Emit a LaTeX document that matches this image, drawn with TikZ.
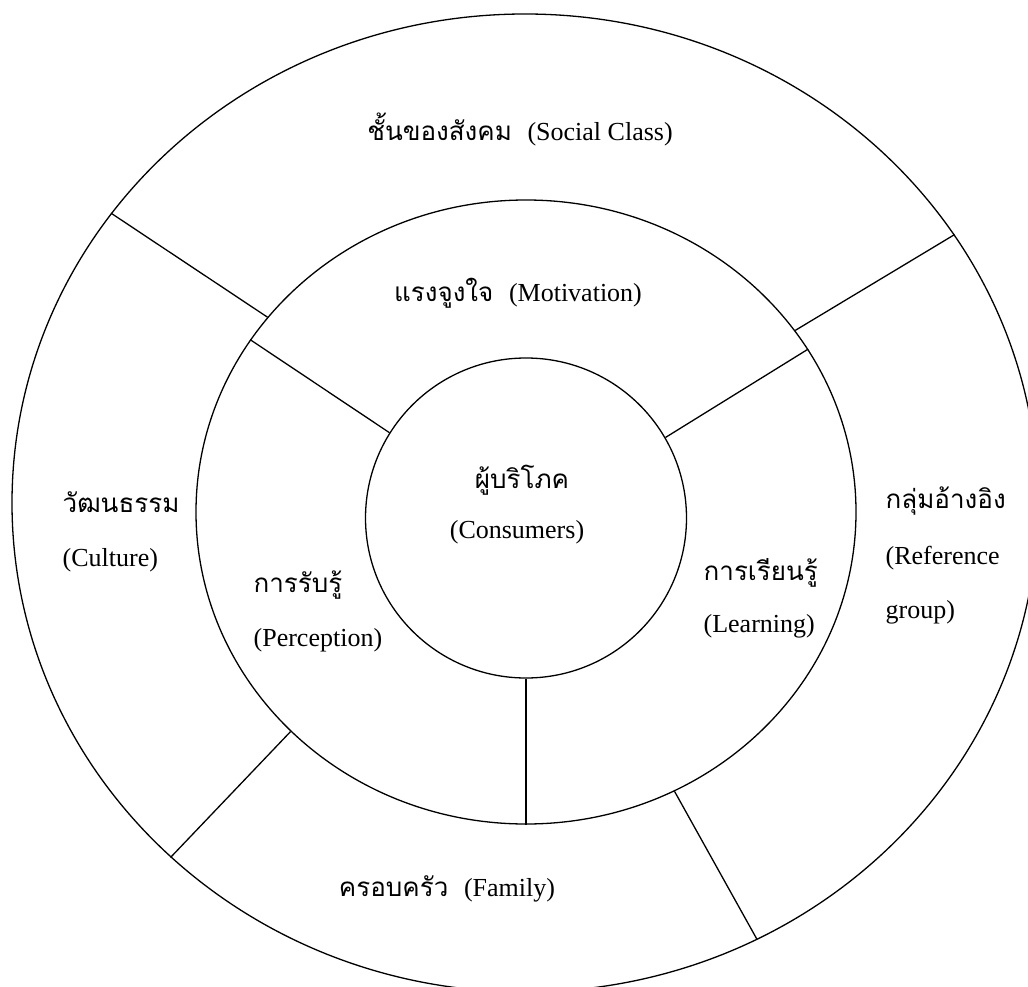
\documentclass[tikz,border=0pt]{standalone}
\usepackage{fontspec}
\setmainfont{Liberation Serif}
\newfontfamily\thaifont[Script=Thai]{Loma}
\usetikzlibrary{shapes.geometric}

\begin{document}
\begin{tikzpicture}[x=1pt,y=-1pt,line width=1.3pt]
	\tikzstyle{every node}=[font=\fontsize{26}{30}\selectfont, inner sep=0pt]
	\tikzstyle{ring}=[draw, ellipse]
	\tikzstyle{lbl}=[anchor=base west]
	\tikzstyle{clbl}=[anchor=base]

	\useasboundingbox (0,0) rectangle (1028,987);
	\clip (0,0) rectangle (1028,987);

	% three rings
	\node[ring, minimum width=1026pt, minimum height=978pt] (outer) at (525,503) {};
	\node[ring, minimum width=660pt, minimum height=624pt] (mid) at (526,512) {};
	\node[ring, minimum width=321pt, minimum height=320pt] (core) at (526,518) {};

	% dividers of the middle ring
	\draw (core.148) -- (mid.148);
	\draw (core.30) -- (mid.30);
	\draw (core.270) -- (mid.270);

	% dividers of the outer ring
	\draw (mid.143.5) -- (outer.145.3);
	\draw (mid.34.3) -- (outer.32.5);
	\draw (mid.223.4) -- (outer.225);
	\draw (mid.298) -- (outer.298.6);

	% labels
	\node[clbl] (social) at (520,141) {{\thaifont ชั้นของสังคม}\hspace{0.6em}(Social Class)};
	\node[clbl] (motiv) at (518,301) {{\thaifont แรงจูงใจ}\hspace{0.6em}(Motivation)};
	\node[clbl] (consTh) at (522,488) {\thaifont ผู้บริโภค};
	\node[clbl] (consEn) at (517,538) {(Consumers)};
	\node[lbl] (cultTh) at (62,512) {\thaifont วัฒนธรรม};
	\node[lbl] (cultEn) at (62,566) {(Culture)};
	\node[lbl] (percTh) at (253,592) {\thaifont การรับรู้};
	\node[lbl] (percEn) at (253,646) {(Perception)};
	\node[lbl] (learnTh) at (703,580) {\thaifont การเรียนรู้};
	\node[lbl] (learnEn) at (703,632) {(Learning)};
	\node[lbl] (refTh) at (885,508) {\thaifont กลุ่มอ้างอิง};
	\node[lbl] (refEn) at (885,564) {(Reference};
	\node[lbl] (refEn2) at (885,618) {group)};
	\node[clbl] (family) at (447,896) {{\thaifont ครอบครัว}\hspace{0.6em}(Family)};
\end{tikzpicture}
\end{document}
